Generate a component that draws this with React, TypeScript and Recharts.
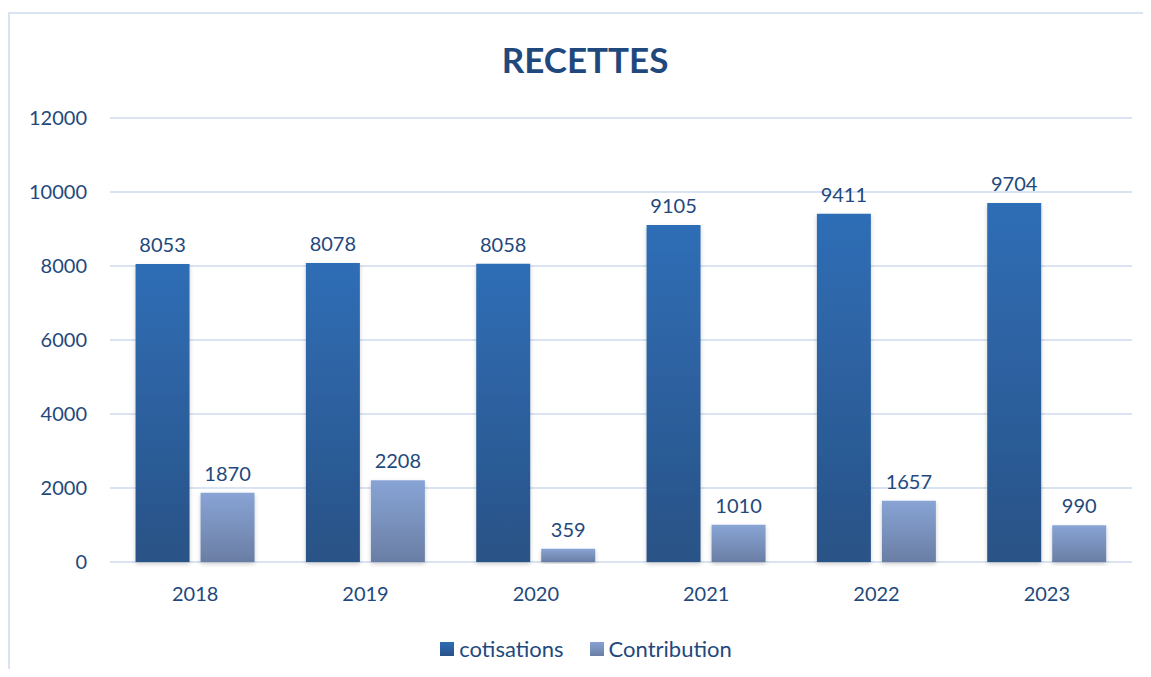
import { BarChart, Bar, XAxis, YAxis, CartesianGrid, LabelList, Legend } from 'recharts';

const years = ['2018', '2019', '2020', '2021', '2022', '2023'];
const cotisations = [8053, 8078, 8058, 9105, 9411, 9704];
const contribution = [1870, 2208, 359, 1010, 1657, 990];
const yTicks = [0, 2000, 4000, 6000, 8000, 10000, 12000];

const data = years.map((year, i) => ({
  year,
  cotisations: cotisations[i],
  Contribution: contribution[i],
}));

const textColor = '#1F497D';
const font = 'Lato, "Open Sans", sans-serif';

const LegendContent = () => (
  <div style={{ display: 'flex', justifyContent: 'center', gap: 26, paddingTop: 18, paddingLeft: 30, fontFamily: font, fontSize: 22, color: textColor }}>
    <div style={{ display: 'flex', alignItems: 'center', gap: 5 }}>
      <span style={{ width: 14, height: 14, background: 'linear-gradient(#2F6DB5, #2A5288)', display: 'inline-block' }} />
      cotisations
    </div>
    <div style={{ display: 'flex', alignItems: 'center', gap: 5 }}>
      <span style={{ width: 14, height: 14, background: 'linear-gradient(#87A3D4, #6B7FA5)', display: 'inline-block' }} />
      Contribution
    </div>
  </div>
);

export default function App() {
  return (
    <div style={{ position: 'relative', margin: -8, width: 1151, height: 677, background: '#fff', overflow: 'hidden' }}>
      <div style={{ position: 'absolute', left: 8, top: 12, width: 1200, height: 700, borderTop: '2px solid #D9E3F1', borderLeft: '2px solid #D9E3F1' }} />
      <div style={{ position: 'absolute', left: 0, width: 1170, top: 38, textAlign: 'center', fontFamily: font, fontWeight: 'bold', fontSize: 35, color: textColor }}>
        RECETTES
      </div>
      <div style={{ position: 'absolute', left: 0, top: 0 }}>
        <BarChart width={1151} height={677} data={data} margin={{ top: 118, right: 19, left: 10, bottom: 0 }} barGap={11} barCategoryGap="15%">
          <defs>
            <linearGradient id="gCot" x1="0" y1="0" x2="0" y2="1">
              <stop offset="0%" stopColor="#2F6EB6" />
              <stop offset="100%" stopColor="#2A5286" />
            </linearGradient>
            <linearGradient id="gCon" x1="0" y1="0" x2="0" y2="1">
              <stop offset="0%" stopColor="#88A4D5" />
              <stop offset="100%" stopColor="#6A7EA4" />
            </linearGradient>
            <filter id="shadow" x="-20%" y="-5%" width="140%" height="115%">
              <feDropShadow dx="0" dy="2" stdDeviation="2" floodColor="#000" floodOpacity="0.2" />
            </filter>
          </defs>
          <CartesianGrid vertical={false} stroke="#D9E3F1" strokeWidth={2} />
          <XAxis
            dataKey="year"
            axisLine={false}
            tickLine={false}
            height={55}
            tickMargin={19}
            tick={{ fill: textColor, fontSize: 20, fontFamily: font }}
          />
          <YAxis
            width={100}
            domain={[0, 12000]}
            ticks={yTicks}
            axisLine={false}
            tickLine={false}
            tickMargin={17}
            tick={{ fill: textColor, fontSize: 20, fontFamily: font }}
          />
          <Legend verticalAlign="bottom" height={60} content={<LegendContent />} />
          <Bar dataKey="cotisations" fill="url(#gCot)" filter="url(#shadow)" isAnimationActive={false}>
            <LabelList dataKey="cotisations" position="top" offset={12} fill={textColor} fontSize={20} fontFamily={font} />
          </Bar>
          <Bar dataKey="Contribution" fill="url(#gCon)" filter="url(#shadow)" isAnimationActive={false}>
            <LabelList dataKey="Contribution" position="top" offset={12} fill={textColor} fontSize={20} fontFamily={font} />
          </Bar>
        </BarChart>
      </div>
    </div>
  );
}
